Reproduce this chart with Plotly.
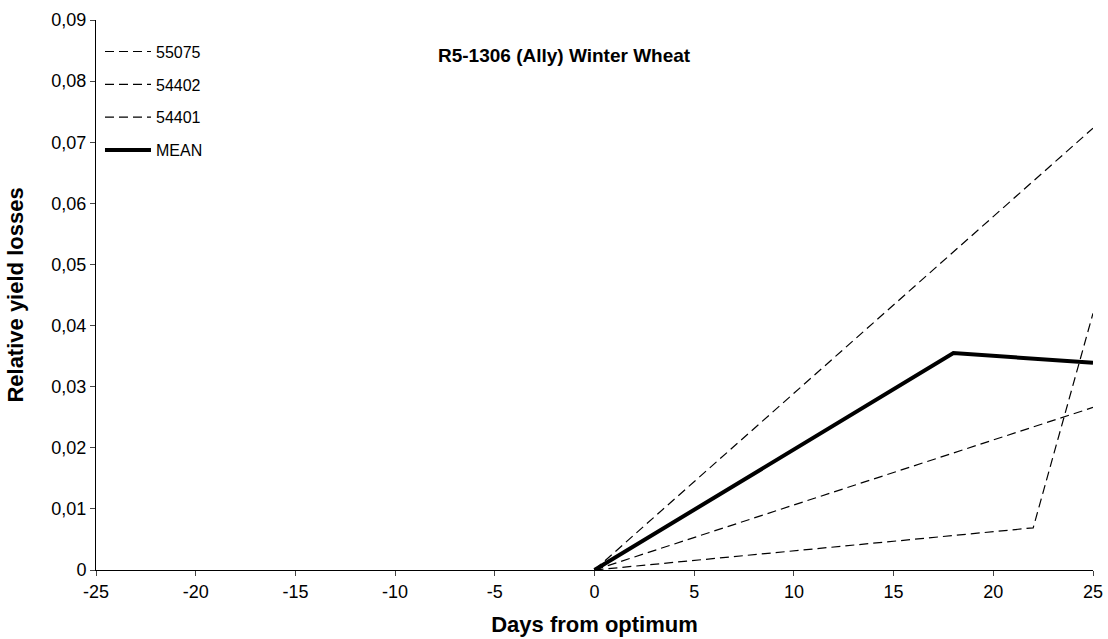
import plotly.graph_objects as go

# Data
days_55075 = [0, 25]
loss_55075 = [0.0, 0.0723]
days_54402 = [0, 25]
loss_54402 = [0.0, 0.0266]
days_54401 = [0, 22, 25]
loss_54401 = [0.0, 0.0069, 0.0420]
days_mean = [0, 18, 25]
loss_mean = [0.0, 0.0355, 0.0339]

x_ticks = [-25, -20, -15, -10, -5, 0, 5, 10, 15, 20, 25]
x_ticktext = ["-25", "-20", "-15", "-10", "-5", "0", "5", "10", "15", "20", "25"]
y_ticks = [0, 0.01, 0.02, 0.03, 0.04, 0.05, 0.06, 0.07, 0.08, 0.09]
y_ticktext = ["0", "0,01", "0,02", "0,03", "0,04", "0,05", "0,06", "0,07", "0,08", "0,09"]

FONT = "Arial, Liberation Sans, sans-serif"
dash = "9px,5px"

fig = go.Figure()
series = [
    ("55075", days_55075, loss_55075, dict(color="black", width=1.2, dash=dash)),
    ("54402", days_54402, loss_54402, dict(color="black", width=1.2, dash=dash)),
    ("54401", days_54401, loss_54401, dict(color="black", width=1.2, dash=dash)),
    ("MEAN", days_mean, loss_mean, dict(color="black", width=4)),
]
for name, xs, ys, line in series:
    fig.add_trace(go.Scatter(x=xs, y=ys, mode="lines", name=name, line=line,
                             legendgroup=name, showlegend=True))

fig.update_layout(
    width=1108, height=639,
    margin=dict(l=96, r=15, t=20, b=69, autoexpand=False),
    plot_bgcolor="white", paper_bgcolor="white",
    font=dict(family=FONT, color="black", size=18),
    showlegend=True,
    legend=dict(x=0.004, y=0.9735, xanchor="left", yanchor="top",
                bgcolor="rgba(0,0,0,0)", font=dict(size=16, family=FONT),
                itemwidth=46, tracegroupgap=9, traceorder="grouped"),
    xaxis=dict(range=[-25, 25], tickvals=x_ticks, ticktext=x_ticktext, ticks="outside",
               ticklen=5, showline=True, linecolor="black", linewidth=1, showgrid=False,
               zeroline=False, tickfont=dict(size=18, family=FONT), automargin=False,
               title=dict(text="<b>Days from optimum</b>", font=dict(size=22, family=FONT),
                          standoff=16)),
    yaxis=dict(range=[0, 0.09], tickvals=y_ticks, ticktext=y_ticktext, ticks="outside",
               ticklen=5, showline=True, linecolor="black", linewidth=1, showgrid=False,
               zeroline=False, tickfont=dict(size=18, family=FONT), automargin=False,
               title=dict(text="<b>Relative yield losses</b>", font=dict(size=22, family=FONT),
                          standoff=21)),
    annotations=[dict(text="<b>R5-1306 (Ally) Winter Wheat</b>", x=0.47, y=0.936,
                      xref="paper", yref="paper", showarrow=False,
                      font=dict(size=19, family=FONT), xanchor="center", yanchor="middle")],
)

fig.write_html("out.html")
